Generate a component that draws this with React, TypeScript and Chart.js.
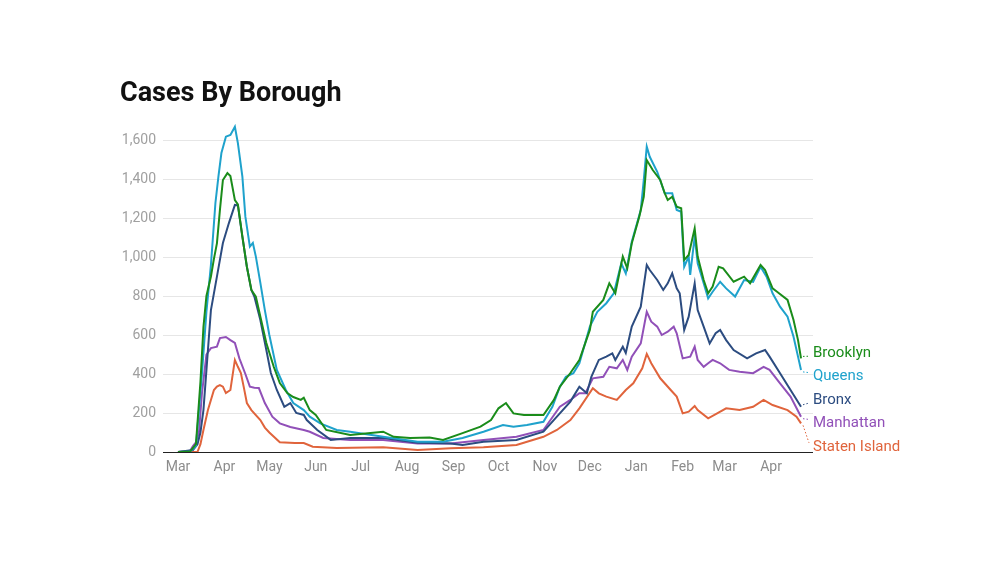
import React, { useEffect, useRef } from "react";
import { Chart, registerables } from "chart.js";

Chart.register(...registerables);

// x values are days since 1 March 2020
const monthStartDays = [0, 31, 61, 92, 122, 153, 184, 214, 245, 275, 306, 337, 365, 396];
const monthLabels = ["Mar", "Apr", "May", "Jun", "Jul", "Aug", "Sep", "Oct", "Nov", "Dec", "Jan", "Feb", "Mar", "Apr"];
const yTickValues = [0, 200, 400, 600, 800, 1000, 1200, 1400, 1600];

const brooklynDays = [0, 8, 12, 15, 17, 19, 22, 24, 26, 28, 30, 33, 35, 38, 40, 43, 46, 49, 52, 56, 59, 64, 68, 73, 77, 82, 84, 88, 92, 99, 115, 137, 144, 155, 168, 177, 190, 202, 209, 214, 219, 224, 231, 237, 244, 251, 255, 262, 268, 275, 277, 284, 288, 292, 297, 300, 303, 308, 311, 313, 317, 322, 325, 327, 330, 333, 336, 338, 341, 345, 347, 351, 354, 357, 361, 364, 371, 378, 382, 389, 392, 397, 400, 407, 411, 414, 416];
const brooklynCases = [0, 2, 40, 360, 640, 800, 900, 990, 1070, 1240, 1395, 1430, 1415, 1292, 1270, 1104, 950, 831, 797, 661, 559, 436, 354, 302, 282, 267, 278, 215, 190, 113, 87, 104, 78, 72, 74, 62, 97, 130, 164, 224, 251, 198, 190, 190, 190, 267, 335, 405, 472, 626, 719, 780, 865, 814, 1002, 942, 1070, 1207, 1309, 1497, 1446, 1395, 1327, 1292, 1309, 1258, 1250, 985, 1010, 1147, 1002, 882, 814, 848, 950, 942, 873, 899, 865, 959, 933, 839, 822, 780, 677, 574, 480];

const queensDays = [0, 8, 12, 16, 19, 22, 25, 27, 29, 32, 35, 38, 40, 43, 45, 48, 50, 52, 55, 58, 61, 66, 72, 77, 84, 88, 95, 106, 115, 137, 160, 177, 190, 204, 217, 224, 233, 244, 250, 255, 259, 264, 268, 275, 280, 286, 291, 296, 299, 303, 309, 311, 313, 315, 320, 325, 330, 333, 336, 338, 341, 342, 345, 347, 351, 354, 357, 362, 366, 372, 378, 384, 389, 393, 397, 402, 407, 411, 414, 416];
const queensCases = [0, 2, 30, 400, 720, 960, 1277, 1412, 1533, 1617, 1626, 1668, 1584, 1412, 1207, 1053, 1072, 1002, 867, 728, 600, 421, 318, 251, 215, 181, 147, 113, 104, 78, 53, 53, 72, 104, 138, 130, 138, 155, 232, 335, 386, 404, 455, 643, 719, 763, 814, 968, 916, 1078, 1241, 1395, 1566, 1514, 1437, 1327, 1327, 1241, 1232, 950, 1002, 908, 1104, 968, 865, 788, 822, 873, 839, 797, 882, 873, 950, 899, 814, 745, 694, 591, 489, 421];

const bronxDays = [0, 10, 13, 15, 17, 19, 22, 26, 30, 34, 38, 40, 43, 46, 49, 51, 55, 59, 62, 66, 71, 75, 79, 84, 86, 93, 102, 115, 137, 160, 182, 190, 204, 226, 244, 253, 262, 264, 268, 273, 276, 281, 286, 290, 292, 297, 299, 303, 309, 313, 315, 320, 324, 327, 330, 333, 335, 338, 341, 345, 347, 351, 355, 359, 362, 366, 371, 380, 386, 392, 395, 402, 409, 416];
const bronxCases = [0, 10, 40, 100, 215, 420, 728, 899, 1072, 1174, 1267, 1265, 1104, 950, 831, 797, 677, 523, 405, 318, 232, 251, 200, 190, 164, 113, 62, 72, 72, 48, 43, 36, 53, 62, 104, 181, 258, 284, 335, 301, 386, 472, 489, 506, 472, 540, 508, 643, 745, 959, 933, 882, 831, 865, 916, 839, 814, 626, 694, 865, 728, 643, 557, 609, 626, 574, 523, 480, 506, 523, 489, 404, 318, 232];

const manhattanDays = [0, 8, 10, 12, 14, 16, 19, 22, 26, 28, 32, 35, 38, 41, 45, 48, 51, 54, 58, 63, 68, 75, 84, 88, 97, 115, 137, 160, 182, 204, 226, 244, 255, 262, 268, 272, 277, 284, 288, 293, 297, 300, 303, 309, 313, 316, 320, 323, 327, 331, 333, 337, 342, 345, 347, 351, 354, 357, 362, 368, 375, 384, 391, 395, 402, 409, 416];
const manhattanCases = [0, 5, 30, 50, 100, 300, 500, 533, 540, 584, 590, 574, 559, 480, 400, 335, 330, 328, 251, 181, 147, 128, 113, 104, 72, 62, 62, 44, 43, 62, 78, 113, 232, 267, 301, 301, 378, 386, 437, 429, 472, 421, 489, 557, 719, 668, 643, 600, 617, 643, 609, 480, 489, 540, 472, 437, 455, 472, 455, 421, 412, 404, 437, 421, 352, 284, 181];

const statenDays = [0, 13, 15, 17, 20, 24, 26, 28, 30, 32, 35, 38, 40, 42, 44, 46, 49, 55, 58, 61, 68, 78, 84, 90, 106, 137, 160, 182, 204, 226, 244, 253, 262, 268, 277, 281, 286, 293, 299, 304, 310, 313, 316, 322, 329, 333, 337, 341, 345, 347, 354, 360, 366, 375, 384, 391, 397, 407, 413, 416];
const statenCases = [0, 0, 40, 113, 215, 318, 335, 343, 335, 302, 318, 472, 437, 405, 330, 251, 215, 164, 125, 100, 50, 46, 46, 27, 20, 24, 10, 19, 24, 36, 78, 113, 164, 224, 327, 301, 284, 267, 318, 352, 429, 503, 455, 378, 318, 284, 198, 207, 236, 215, 173, 198, 224, 215, 232, 267, 241, 215, 181, 147];

const boroughNames = ["Brooklyn", "Queens", "Bronx", "Manhattan", "Staten Island"];
const boroughColors = ["#1a8c1a", "#1fa2cc", "#2c4c80", "#9150b8", "#e0643c"];

const FONT = "Roboto, 'Noto Sans', sans-serif";

const endLabelsPlugin = {
  id: "endLabels",
  afterDatasetsDraw(chart: any) {
    const ctx = chart.ctx;
    const gap = 23.4;
    const items = chart.data.datasets.map((ds: any, i: number) => {
      const meta = chart.getDatasetMeta(i);
      const pt = meta.data[meta.data.length - 1];
      return { label: ds.label, color: ds.borderColor, x: pt.x, y: pt.y };
    });
    items.sort((a: any, b: any) => a.y - b.y);
    let clusters = items.map((it: any) => ({ items: [it], center: it.y }));
    let merged = true;
    while (merged) {
      merged = false;
      for (let i = 0; i < clusters.length - 1; i++) {
        const a = clusters[i];
        const b = clusters[i + 1];
        const aBottom = a.center + ((a.items.length - 1) * gap) / 2;
        const bTop = b.center - ((b.items.length - 1) * gap) / 2;
        if (bTop - aBottom < gap) {
          const all = a.items.concat(b.items);
          const center = all.reduce((s: number, it: any) => s + it.y, 0) / all.length;
          clusters.splice(i, 2, { items: all, center });
          merged = true;
          break;
        }
      }
    }
    const labelX = chart.chartArea.right;
    ctx.save();
    ctx.font = `15px ${FONT}`;
    ctx.textBaseline = "middle";
    ctx.textAlign = "left";
    clusters.forEach((c: any) => {
      const top = c.center - ((c.items.length - 1) * gap) / 2 + 5;
      c.items.forEach((it: any, k: number) => {
        const ly = top + k * gap;
        if (Math.abs(ly - it.y) > 4) {
          ctx.beginPath();
          ctx.setLineDash([1.5, 2]);
          ctx.strokeStyle = it.color;
          ctx.lineWidth = 1;
          ctx.moveTo(it.x + 2, it.y + (ly > it.y ? 2 : -2));
          ctx.lineTo(labelX - 4, ly + (ly > it.y ? -4 : 3));
          ctx.stroke();
          ctx.setLineDash([]);
        }
        ctx.fillStyle = it.color;
        ctx.fillText(it.label, labelX, ly);
      });
    });
    ctx.restore();
  },
};

export default function App() {
  const canvasRef = useRef<HTMLCanvasElement | null>(null);

  useEffect(() => {
    document.body.style.margin = "0";
    const canvas = canvasRef.current;
    if (!canvas) return;

    const seriesDays = [brooklynDays, queensDays, bronxDays, manhattanDays, statenDays];
    const seriesCases = [brooklynCases, queensCases, bronxCases, manhattanCases, statenCases];

    const datasets = boroughNames.map((name, i) => ({
      label: name,
      data: seriesDays[i].map((d, j) => ({ x: d, y: seriesCases[i][j] })),
      borderColor: boroughColors[i],
      backgroundColor: boroughColors[i],
      borderWidth: 2,
      pointRadius: 0,
      tension: 0,
      fill: false,
    }));

    const chart = new Chart(canvas, {
      type: "line",
      data: { datasets },
      options: {
        animation: false,
        responsive: false,
        maintainAspectRatio: false,
        layout: { padding: { top: 120.5, right: 181, left: 0, bottom: 0 } },
        plugins: {
          legend: { display: false },
          tooltip: { enabled: false },
        },
        scales: {
          x: {
            type: "linear",
            min: -10,
            max: 424,
            grid: { display: false, drawTicks: false },
            border: { display: false },
            afterBuildTicks: (scale: any) => {
              scale.ticks = monthStartDays.map((v) => ({ value: v }));
            },
            afterFit: (scale: any) => {
              scale.height = 113;
            },
            ticks: {
              autoSkip: false,
              maxRotation: 0,
              padding: 7,
              color: "#8c8c8c",
              font: { family: FONT, size: 14 },
              callback: (_v: any, index: number) => monthLabels[index],
            },
          },
          y: {
            type: "linear",
            min: 0,
            max: 1700,
            afterBuildTicks: (scale: any) => {
              scale.ticks = yTickValues.map((v) => ({ value: v }));
            },
            afterFit: (scale: any) => {
              scale.width = 163;
            },
            grid: {
              drawTicks: false,
              color: (c: any) => (c.tick && c.tick.value === 0 ? "#222222" : "#e6e6e6"),
              lineWidth: 1,
            },
            border: { display: false },
            ticks: {
              padding: 7,
              color: "#a0a0a0",
              font: { family: FONT, size: 14 },
              callback: (v: any) => Number(v).toLocaleString("en-US"),
            },
          },
        },
      },
      plugins: [endLabelsPlugin],
    });

    return () => chart.destroy();
  }, []);

  return (
    <div style={{ position: "fixed", left: 0, top: 0, width: 994, height: 565, background: "#fff" }}>
      <div
        style={{
          position: "absolute",
          left: 120,
          top: 79,
          fontFamily: FONT,
          fontWeight: 700,
          fontSize: 27,
          lineHeight: "27px",
          color: "#111",
          whiteSpace: "nowrap",
        }}
      >
        Cases By Borough
      </div>
      <canvas ref={canvasRef} width={994} height={565} style={{ display: "block" }} />
    </div>
  );
}
